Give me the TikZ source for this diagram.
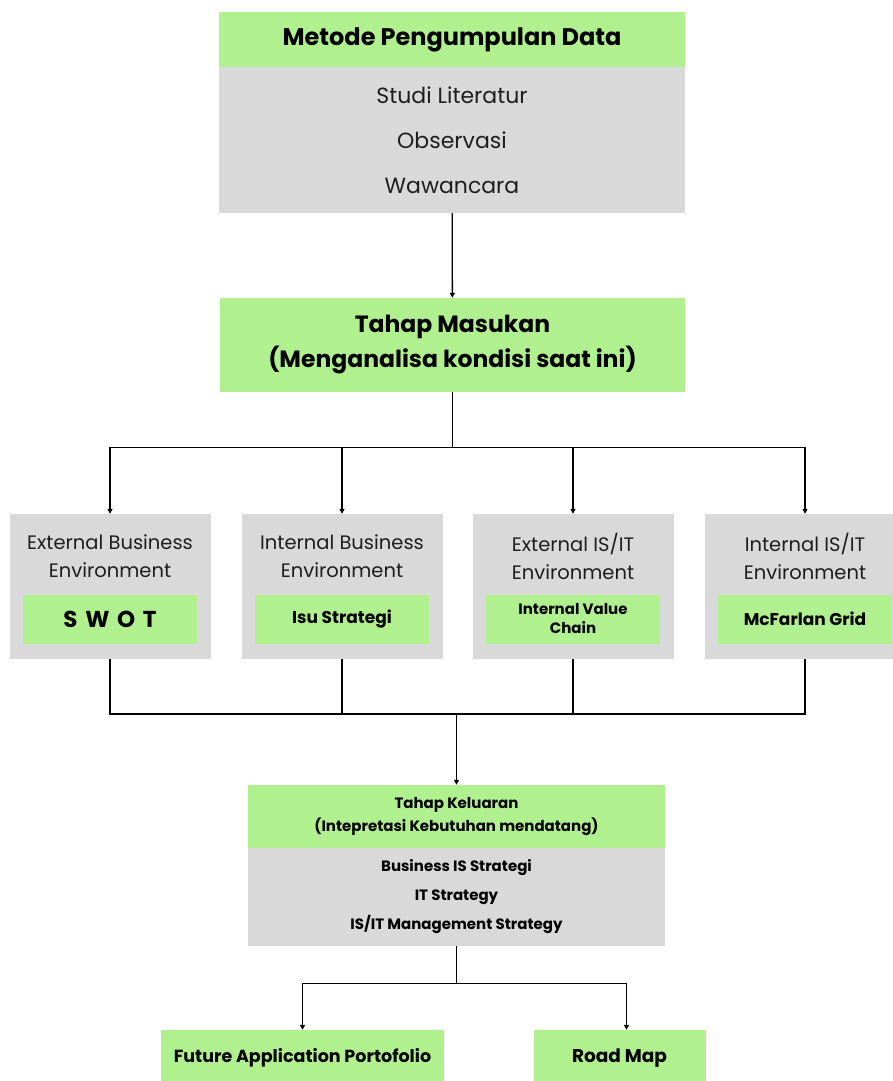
\documentclass[tikz,border=0pt]{standalone}
\usepackage{fontspec}
\setmainfont{Poppins}
\usepackage{tikz}
\usetikzlibrary{positioning,arrows.meta}
\definecolor{boxgreen}{RGB}{176,240,142}
\definecolor{boxgray}{RGB}{217,217,217}
\definecolor{textgray}{RGB}{30,30,30}

\begin{document}
\begin{tikzpicture}[x=1pt,y=-1pt,
        greenbox/.style={fill=boxgreen, inner sep=0pt, align=center},
        graybox/.style={fill=boxgray, inner sep=0pt, align=center},
        link/.style={line width=1.3pt, black},
        arrow/.style={link, -{Triangle[length=5pt,width=5pt]}}
    ]
        \clip (0,0) rectangle (893,1081);
        \fill[white] (0,0) rectangle (893,1081);
        % data collection
        \node[greenbox, minimum width=466, minimum height=55, font=\fontsize{24}{28}\selectfont\bfseries] (metode) at (452,39.5) {Metode Pengumpulan Data};
        \node[graybox, minimum width=466, minimum height=146, text=textgray, font=\fontsize{22}{45}\selectfont] (metodeList) at (452,140) {Studi Literatur\\Observasi\\Wawancara};
        % input stage
        \node[greenbox, minimum width=465, minimum height=94, font=\fontsize{23.5}{35}\selectfont\bfseries] (masukan) at (452.5,345) {Tahap Masukan\\(Menganalisa kondisi saat ini)};
        \draw[arrow] (metodeList) to (masukan);
        \foreach \i/\x/\heading/\tool/\toolsize in {
                1/110/{External Business\\Environment}/{S\,\,W\,\,O\,\,T}/23,
                2/342/{Internal Business\\Environment}/{Isu Strategi}/17,
                3/573/{External IS/IT\\Environment}/{Internal Value\\Chain}/15,
                4/805/{Internal IS/IT\\Environment}/{McFarlan Grid}/17
                } {
            \node[graybox, minimum width=201, minimum height=145] (E\i) at (\x,586.5) {};
            \node[align=center, inner sep=0pt, text=textgray, font=\fontsize{19.5}{28}\selectfont] (H\i) at (\x,556) {\heading};
            \node[greenbox, minimum width=174, minimum height=49, font=\fontsize{\toolsize}{19}\selectfont\bfseries] (T\i) at (\x,619) {\tool};
            \draw[arrow] (masukan.south) -- ++(0,55) -| (E\i.north);
        }
        % output stage
        \node[greenbox, minimum width=417, minimum height=63, font=\fontsize{15}{23}\selectfont\bfseries] (keluaran) at (456.5,816.5) {Tahap Keluaran\\(Intepretasi Kebutuhan mendatang)};
        \node[graybox, minimum width=417, minimum height=98, font=\fontsize{15}{29}\selectfont\bfseries] (keluaranList) at (456.5,897) {Business IS Strategi\\IT Strategy\\IS/IT Management Strategy};
        \coordinate (join) at (456.5,714);
        \foreach \i in {1,...,4} {
            \draw[link] (E\i.south) |- (join);
        }
        \draw[arrow] (join) to (keluaran.north);
        \node[greenbox, minimum width=283, minimum height=56, font=\fontsize{17.5}{20}\selectfont\bfseries] (portfolio) at (302.5,1058) {Future Application Portofolio};
        \node[greenbox, minimum width=172, minimum height=56, font=\fontsize{18.5}{20}\selectfont\bfseries] (roadmap) at (619.5,1058) {Road Map};
        \draw[arrow] (keluaranList.south) -- ++(0,37) -| (portfolio.north);
        \draw[arrow] (keluaranList.south) -- ++(0,37) -| ([xshift=7pt]roadmap.north);
    \end{tikzpicture}
\end{document}
